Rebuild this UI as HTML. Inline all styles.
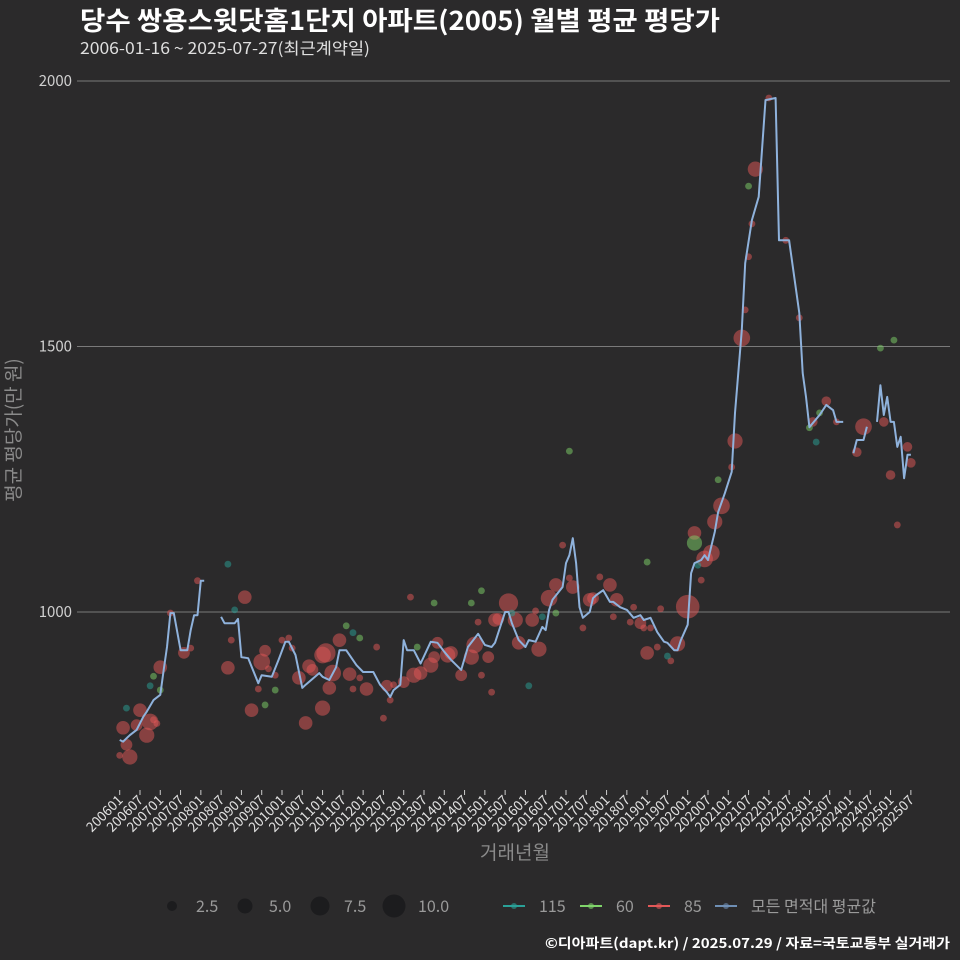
<!DOCTYPE html>
<html><head><meta charset="utf-8">
<style>
html,body{margin:0;padding:0;background:#2b2a2b;}
svg{display:block;font-family:"Noto Sans CJK KR","Liberation Sans",sans-serif;}
</style></head>
<body>
<svg id="chart" width="960" height="960" viewBox="0 0 960 960">
<rect x="0" y="0" width="960" height="960" fill="#2b2a2b"/>
<text x="80" y="30" fill="#ffffff" font-size="26" font-weight="bold" textLength="640" lengthAdjust="spacingAndGlyphs">당수 쌍용스윗닷홈1단지 아파트(2005) 월별 평균 평당가</text>
<text x="80" y="54" fill="#e0e0e0" font-size="16" textLength="290" lengthAdjust="spacingAndGlyphs">2006-01-16 ~ 2025-07-27(최근계약일)</text>
<g id="grid"></g>
<g id="points"></g>
<g id="line"></g>
<g id="xaxis"></g>
<text x="515" y="859" fill="#8a8a8a" font-size="19" text-anchor="middle">거래년월</text>
<text transform="translate(20,430) rotate(-90)" fill="#8a8a8a" font-size="19" text-anchor="middle">평균 평당가(만 원)</text>
<g id="legend"></g>
<text x="950" y="948" fill="#ffffff" font-size="13.5" font-weight="bold" text-anchor="end" textLength="405" lengthAdjust="spacingAndGlyphs">©디아파트(dapt.kr) / 2025.07.29 / 자료=국토교통부 실거래가</text>
</svg>
<script>
const yTicks = [1000, 1500, 2000];
const lineMonths = ["200601","200602","200604","200606","200608","200609","200611","200701","200702","200703","200704","200705","200707","200709","200710","200711","200712","200801","200802","200803","200807","200808","200811","200812","200901","200903","200906","200907","200910","200912","201002","201003","201005","201007","201008","201012","201101","201103","201105","201106","201108","201111","201201","201204","201206","201208","201209","201210","201212","201301","201302","201304","201306","201309","201311","201401","201403","201406","201408","201411","201501","201503","201504","201507","201508","201509","201511","201601","201602","201604","201606","201607","201608","201609","201612","201701","201702","201703","201704","201705","201706","201708","201709","201710","201712","201802","201803","201805","201807","201809","201811","201812","201902","201904","201906","201907","201909","201910","201911","202001","202002","202003","202005","202006","202007","202009","202010","202012","202102","202103","202105","202106","202108","202110","202112","202203","202204","202207","202210","202211","202212","202301","202304","202306","202308","202309","202311","202312","202402","202403","202405","202406","202407","202409","202410","202411","202412","202501","202502","202503","202504","202505","202506","202507"];
const lineValues = [759,756,768,778,803,812,834,844,891,934,998,998,928,928,966,994,994,1059,1059,null,991,979,979,987,915,913,866,881,878,910,944,944,919,857,863,885,878,872,896,928,928,900,887,887,863,849,840,853,863,947,928,928,903,944,942,925,910,891,934,959,938,934,942,1000,1000,979,947,934,947,944,972,966,1004,1023,1047,1092,1107,1139,1092,1009,989,1000,1026,1032,1041,1019,1019,1009,1004,989,994,985,989,962,944,942,928,928,947,976,1073,1092,1098,1107,1098,1151,1188,1224,1264,1375,1531,1657,1738,1782,1964,1968,1700,1700,1563,1450,1405,1348,1371,1390,1380,1358,1358,null,1299,1324,1324,1349,null,1358,1427,1371,1405,1358,1358,1311,1330,1252,1296,1296];

// 85㎡ transactions
const m85 = [
"200602","200603","200604","200601","200607","200606","200609","200610","200611","200612",
"200701","200704","200708","200710","200712","200902","200810","200809","200904","200906",
"200907","200908","200909","200911","201001","201003","201004","201006","201008","201009",
"201010","201101","201102","201101","201103","201104","201106","201109","201110","201112",
"201202","201205","201207","201209","201208","201210","201301","201303","201304","201306",
"201309","201311","201310","201402","201403","201406","201410","201411","201409","201502",
"201412","201503","201504","201508","201510","201505","201603","201604","201511","201605",
"201608","201610","201612","201702","201703","201706","201708","201709","201711","201802",
"201804","201803","201809","201808","201811","201812","201902","201901","201905","201904",
"201910","201908","202001","202003","202005","202006","202008","202009","202011","202102",
"202103","202105","202106","202107","202108","202109","202201","202206","202210","202302",
"202306","202309","202405","202403","202411","202501","202506","202507","202503"];
const v85 = [
782,750,727,730,815,787,768,793,797,790,
896,998,923,932,1059,1028,947,895,815,855,
906,927,893,881,947,951,932,876,791,898,
891,919,923,819,857,885,947,883,855,876,
855,934,800,834,861,863,868,1028,881,885,
900,942,915,919,923,881,938,981,915,915,
881,849,985,1017,985,987,985,1002,942,930,
1026,1051,1126,1064,1047,970,1023,1026,1066,1051,
1023,991,1009,981,979,970,970,923,1006,934,
940,908,1010,1149,1060,1100,1111,1170,1200,1273,
1322,1516,1569,1669,1731,1834,1968,1700,1554,1358,
1397,1358,1349,1301,1358,1258,1311,1281,1164];
const s85 = [
4,3,5,1,4,3,5,6,1,1,
4,1,3,1,1,4,1,4,4,1,
6,3,1,1,1,1,1,4,4,4,
3,6,8,5,4,6,4,4,1,1,
4,1,1,1,3,1,3,1,5,4,
5,3,3,5,4,3,6,1,5,3,
1,1,4,8,5,3,4,1,4,5,
6,4,1,1,4,1,4,3,1,4,
4,1,1,1,3,1,1,4,1,1,
5,1,12,4,1,6,6,5,6,1,
5,6,1,1,1,5,1,1,1,2,
2,1,6,2,2,2,2,2,1];
// 60㎡ transactions
const m60 = ["200611","200701","200911","200908","201108","201112","201305","201310","201409","201412","201610","202003","202010","202107","202301","202304","202410","202502","201702","201901"];
const v60 = [879,853,853,825,974,951,934,1017,1017,1040,998,1130,1249,1802,1347,1375,1497,1512,1303,1094];
const s60 = [1,1,1,1,1,1,1,1,1,1,1,5,1,1,1,1,1,1,1,1];
// 115㎡ transactions
const m115 = ["200603","200610","200809","200811","201110","201602","201606","201509","201907","202004","202303"];
const v115 = [819,861,1090,1004,961,861,991,998,917,1088,1320];
const s115 = [1,1,1,1,1,1,1,1,1,1,1];

const xTickLabels = [];
for (let y = 2006; y <= 2025; y++) { xTickLabels.push(y + "01"); xTickLabels.push(y + "07"); }

const NS = "http://www.w3.org/2000/svg";
function mk(tag, attrs, parent) { const e = document.createElementNS(NS, tag); for (const k in attrs) e.setAttribute(k, attrs[k]); parent.appendChild(e); return e; }
function mIdx(s) { return (parseInt(s.slice(0, 4)) - 2006) * 12 + parseInt(s.slice(4, 6)) - 1; }
function xs(s) { return 119.7 + mIdx(s) * 3.381; }
function ys(v) { return 612 - (v - 1000) * 0.531; }

const grid = document.getElementById('grid');
yTicks.forEach(t => {
  const l = mk('line', { x1: 77, x2: 950, y1: ys(t), y2: ys(t), stroke: '#7a7a7a', 'stroke-width': 1 }, grid);
  
  
  const tx = mk('text', { x: 72, y: ys(t) + 5, fill: '#d0d0d0', 'font-size': 15, 'text-anchor': 'end' }, grid);
  tx.textContent = t;
  
  
});

const pg = document.getElementById('points');
function drawPts(ms, vs, ss, col, name) {
  ms.forEach((m, i) => {
    const r = Math.sqrt(ss[i]) * 3.4;
    const c = mk('circle', { cx: xs(m), cy: ys(vs[i]), r: r, fill: col, 'fill-opacity': 0.5 }, pg);
    
    
  });
}
drawPts(m85, v85, s85, '#e35858', 'point-85');
drawPts(m60, v60, s60, '#7fd46a', 'point-60');
drawPts(m115, v115, s115, '#2aa198', 'point-115');

const lg = document.getElementById('line');
let d = "", pen = false;
lineMonths.forEach((m, i) => {
  const v = lineValues[i];
  if (v === null) { pen = false; return; }
  d += (pen ? "L" : "M") + xs(m).toFixed(1) + "," + ys(v).toFixed(1);
  pen = true;
});
const path = mk('path', { d: d, fill: 'none', stroke: '#8fb2dc', 'stroke-width': 2, 'stroke-linejoin': 'round' }, lg);



const xa = document.getElementById('xaxis');
xTickLabels.forEach(t => {
  const x = xs(t);
  const tk = mk('line', { x1: x, x2: x, y1: 790, y2: 795, stroke: '#cccccc', 'stroke-width': 1 }, xa);
  
  
  const tx = mk('text', { transform: 'translate(' + (x + 4) + ',801) rotate(-45)', fill: '#e0e0e0', 'font-size': 13.5, 'text-anchor': 'end' }, xa);
  tx.textContent = t;
  
  
});

const leg = document.getElementById('legend');
const sizeLabels = ["2.5", "5.0", "7.5", "10.0"];
const sizeR = [5, 7.5, 9.5, 11.5];
const sizeX = [172, 245, 320, 394];
sizeLabels.forEach((s, i) => {
  const c = mk('circle', { cx: sizeX[i], cy: 906, r: sizeR[i], fill: '#1c1c1e' }, leg);
  
  
  const t = mk('text', { x: sizeX[i] + 24, y: 912, fill: '#9a9a9a', 'font-size': 16 }, leg);
  t.textContent = s;
  
  
});
const serNames = ["115", "60", "85", "모든 면적대 평균값"];
const serCols = ["#2aa198", "#7fd46a", "#e35858", "#6f8fb5"];
const serX = [503, 580, 648, 715];
serNames.forEach((s, i) => {
  const l = mk('line', { x1: serX[i], x2: serX[i] + 22, y1: 906, y2: 906, stroke: serCols[i], 'stroke-width': 2 }, leg);
  
  
  const c = mk('circle', { cx: serX[i] + 11, cy: 906, r: 3, fill: serCols[i], 'fill-opacity': 0.6 }, leg);
  
  
  const t = mk('text', { x: serX[i] + 36, y: 912, fill: '#9a9a9a', 'font-size': 16 }, leg);
  t.textContent = s;
  
  
});
</script>
</body></html>
